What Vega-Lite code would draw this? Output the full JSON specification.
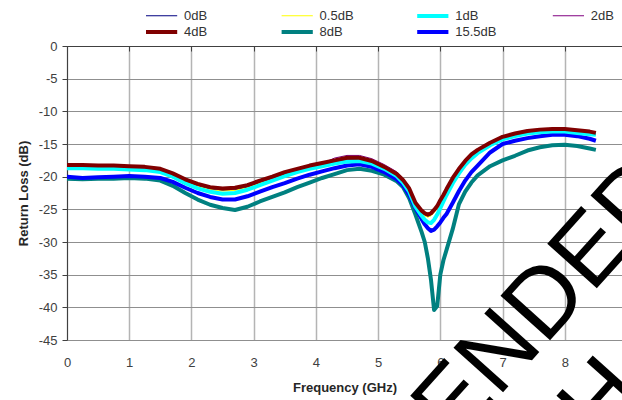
{
"$schema": "https://vega.github.io/schema/vega-lite/v6.json",
"autosize": {"type": "none"},
"padding": {"left": 67, "top": 46, "right": 0, "bottom": 60},
"width": 555,
"height": 294,
"background": "white",
"config": {"view": {"stroke": null}, "font": "Liberation Sans"},
"resolve": {"axis": {"x": "independent", "y": "independent"}},
"datasets": {
"curves": [
{"s":"0dB","f":0,"v":-18.5},{"s":"0dB","f":0.25,"v":-18.5},{"s":"0dB","f":0.5,"v":-18.6},{"s":"0dB","f":0.75,"v":-18.6},{"s":"0dB","f":1,"v":-18.7},{"s":"0dB","f":1.25,"v":-18.8},{"s":"0dB","f":1.5,"v":-19.1},{"s":"0dB","f":1.7,"v":-19.8},{"s":"0dB","f":1.9,"v":-20.7},{"s":"0dB","f":2.1,"v":-21.4},{"s":"0dB","f":2.3,"v":-21.9},{"s":"0dB","f":2.5,"v":-22.1},{"s":"0dB","f":2.7,"v":-22.0},{"s":"0dB","f":2.9,"v":-21.6},{"s":"0dB","f":3.1,"v":-20.9},{"s":"0dB","f":3.3,"v":-20.3},{"s":"0dB","f":3.5,"v":-19.6},{"s":"0dB","f":3.7,"v":-19.1},{"s":"0dB","f":3.9,"v":-18.6},{"s":"0dB","f":4.1,"v":-18.2},{"s":"0dB","f":4.3,"v":-17.8},{"s":"0dB","f":4.5,"v":-17.4},{"s":"0dB","f":4.7,"v":-17.4},{"s":"0dB","f":4.9,"v":-17.9},{"s":"0dB","f":5.1,"v":-18.8},{"s":"0dB","f":5.3,"v":-19.9},{"s":"0dB","f":5.4,"v":-20.8},{"s":"0dB","f":5.5,"v":-22.1},{"s":"0dB","f":5.6,"v":-24.3},{"s":"0dB","f":5.7,"v":-25.5},{"s":"0dB","f":5.75,"v":-25.9},{"s":"0dB","f":5.8,"v":-26.1},{"s":"0dB","f":5.85,"v":-25.9},{"s":"0dB","f":5.9,"v":-25.4},{"s":"0dB","f":5.95,"v":-24.8},{"s":"0dB","f":6,"v":-23.9},{"s":"0dB","f":6.05,"v":-23.1},{"s":"0dB","f":6.1,"v":-22.2},{"s":"0dB","f":6.2,"v":-20.5},{"s":"0dB","f":6.3,"v":-19.1},{"s":"0dB","f":6.4,"v":-17.9},{"s":"0dB","f":6.5,"v":-16.9},{"s":"0dB","f":6.6,"v":-16.2},{"s":"0dB","f":6.8,"v":-15.1},{"s":"0dB","f":7,"v":-14.2},{"s":"0dB","f":7.2,"v":-13.7},{"s":"0dB","f":7.4,"v":-13.3},{"s":"0dB","f":7.6,"v":-13.1},{"s":"0dB","f":7.8,"v":-13.0},{"s":"0dB","f":8,"v":-13.0},{"s":"0dB","f":8.2,"v":-13.2},{"s":"0dB","f":8.4,"v":-13.4},{"s":"0dB","f":8.5,"v":-13.6},
{"s":"0.5dB","f":0,"v":-18.6},{"s":"0.5dB","f":0.25,"v":-18.6},{"s":"0.5dB","f":0.5,"v":-18.7},{"s":"0.5dB","f":0.75,"v":-18.7},{"s":"0.5dB","f":1,"v":-18.8},{"s":"0.5dB","f":1.25,"v":-18.9},{"s":"0.5dB","f":1.5,"v":-19.2},{"s":"0.5dB","f":1.7,"v":-19.9},{"s":"0.5dB","f":1.9,"v":-20.8},{"s":"0.5dB","f":2.1,"v":-21.5},{"s":"0.5dB","f":2.3,"v":-22.0},{"s":"0.5dB","f":2.5,"v":-22.2},{"s":"0.5dB","f":2.7,"v":-22.1},{"s":"0.5dB","f":2.9,"v":-21.7},{"s":"0.5dB","f":3.1,"v":-21.0},{"s":"0.5dB","f":3.3,"v":-20.4},{"s":"0.5dB","f":3.5,"v":-19.7},{"s":"0.5dB","f":3.7,"v":-19.2},{"s":"0.5dB","f":3.9,"v":-18.7},{"s":"0.5dB","f":4.1,"v":-18.3},{"s":"0.5dB","f":4.3,"v":-17.9},{"s":"0.5dB","f":4.5,"v":-17.5},{"s":"0.5dB","f":4.7,"v":-17.5},{"s":"0.5dB","f":4.9,"v":-18.0},{"s":"0.5dB","f":5.1,"v":-18.9},{"s":"0.5dB","f":5.3,"v":-20.0},{"s":"0.5dB","f":5.4,"v":-20.9},{"s":"0.5dB","f":5.5,"v":-22.2},{"s":"0.5dB","f":5.6,"v":-24.4},{"s":"0.5dB","f":5.7,"v":-25.6},{"s":"0.5dB","f":5.75,"v":-26.0},{"s":"0.5dB","f":5.8,"v":-26.2},{"s":"0.5dB","f":5.85,"v":-26.0},{"s":"0.5dB","f":5.9,"v":-25.5},{"s":"0.5dB","f":5.95,"v":-24.9},{"s":"0.5dB","f":6,"v":-24.0},{"s":"0.5dB","f":6.05,"v":-23.2},{"s":"0.5dB","f":6.1,"v":-22.3},{"s":"0.5dB","f":6.2,"v":-20.6},{"s":"0.5dB","f":6.3,"v":-19.2},{"s":"0.5dB","f":6.4,"v":-18.0},{"s":"0.5dB","f":6.5,"v":-17.0},{"s":"0.5dB","f":6.6,"v":-16.3},{"s":"0.5dB","f":6.8,"v":-15.2},{"s":"0.5dB","f":7,"v":-14.3},{"s":"0.5dB","f":7.2,"v":-13.8},{"s":"0.5dB","f":7.4,"v":-13.4},{"s":"0.5dB","f":7.6,"v":-13.2},{"s":"0.5dB","f":7.8,"v":-13.1},{"s":"0.5dB","f":8,"v":-13.1},{"s":"0.5dB","f":8.2,"v":-13.3},{"s":"0.5dB","f":8.4,"v":-13.5},{"s":"0.5dB","f":8.5,"v":-13.7},
{"s":"2dB","f":0,"v":-18.3},{"s":"2dB","f":0.25,"v":-18.3},{"s":"2dB","f":0.5,"v":-18.4},{"s":"2dB","f":0.75,"v":-18.4},{"s":"2dB","f":1,"v":-18.5},{"s":"2dB","f":1.25,"v":-18.6},{"s":"2dB","f":1.5,"v":-18.9},{"s":"2dB","f":1.7,"v":-19.6},{"s":"2dB","f":1.9,"v":-20.5},{"s":"2dB","f":2.1,"v":-21.2},{"s":"2dB","f":2.3,"v":-21.7},{"s":"2dB","f":2.5,"v":-21.9},{"s":"2dB","f":2.7,"v":-21.8},{"s":"2dB","f":2.9,"v":-21.4},{"s":"2dB","f":3.1,"v":-20.7},{"s":"2dB","f":3.3,"v":-20.1},{"s":"2dB","f":3.5,"v":-19.4},{"s":"2dB","f":3.7,"v":-18.9},{"s":"2dB","f":3.9,"v":-18.4},{"s":"2dB","f":4.1,"v":-18.0},{"s":"2dB","f":4.3,"v":-17.15},{"s":"2dB","f":4.5,"v":-16.75},{"s":"2dB","f":4.7,"v":-16.75},{"s":"2dB","f":4.9,"v":-17.25},{"s":"2dB","f":5.1,"v":-18.15},{"s":"2dB","f":5.3,"v":-19.25},{"s":"2dB","f":5.4,"v":-20.4},{"s":"2dB","f":5.5,"v":-21.9},{"s":"2dB","f":5.6,"v":-24.1},{"s":"2dB","f":5.7,"v":-25.3},{"s":"2dB","f":5.75,"v":-25.7},{"s":"2dB","f":5.8,"v":-25.9},{"s":"2dB","f":5.85,"v":-25.7},{"s":"2dB","f":5.9,"v":-25.2},{"s":"2dB","f":5.95,"v":-24.6},{"s":"2dB","f":6,"v":-23.7},{"s":"2dB","f":6.05,"v":-22.9},{"s":"2dB","f":6.1,"v":-22.0},{"s":"2dB","f":6.2,"v":-20.3},{"s":"2dB","f":6.3,"v":-18.9},{"s":"2dB","f":6.4,"v":-17.7},{"s":"2dB","f":6.5,"v":-16.7},{"s":"2dB","f":6.6,"v":-16.0},{"s":"2dB","f":6.8,"v":-14.9},{"s":"2dB","f":7,"v":-14.0},{"s":"2dB","f":7.2,"v":-13.5},{"s":"2dB","f":7.4,"v":-13.1},{"s":"2dB","f":7.6,"v":-12.9},{"s":"2dB","f":7.8,"v":-12.8},{"s":"2dB","f":8,"v":-12.8},{"s":"2dB","f":8.2,"v":-13.0},{"s":"2dB","f":8.4,"v":-13.2},{"s":"2dB","f":8.5,"v":-13.4},
{"s":"8dB","f":0,"v":-20.3},{"s":"8dB","f":0.25,"v":-20.4},{"s":"8dB","f":0.5,"v":-20.3},{"s":"8dB","f":0.75,"v":-20.3},{"s":"8dB","f":1,"v":-20.2},{"s":"8dB","f":1.25,"v":-20.3},{"s":"8dB","f":1.5,"v":-20.6},{"s":"8dB","f":1.7,"v":-21.4},{"s":"8dB","f":1.9,"v":-22.5},{"s":"8dB","f":2.1,"v":-23.5},{"s":"8dB","f":2.3,"v":-24.3},{"s":"8dB","f":2.5,"v":-24.8},{"s":"8dB","f":2.7,"v":-25.1},{"s":"8dB","f":2.9,"v":-24.6},{"s":"8dB","f":3.1,"v":-23.8},{"s":"8dB","f":3.3,"v":-23.1},{"s":"8dB","f":3.5,"v":-22.4},{"s":"8dB","f":3.7,"v":-21.6},{"s":"8dB","f":3.9,"v":-20.9},{"s":"8dB","f":4.1,"v":-20.2},{"s":"8dB","f":4.3,"v":-19.6},{"s":"8dB","f":4.5,"v":-19.0},{"s":"8dB","f":4.7,"v":-18.8},{"s":"8dB","f":4.9,"v":-19.1},{"s":"8dB","f":5.1,"v":-19.7},{"s":"8dB","f":5.3,"v":-20.7},{"s":"8dB","f":5.4,"v":-21.6},{"s":"8dB","f":5.5,"v":-23.3},{"s":"8dB","f":5.6,"v":-25.8},{"s":"8dB","f":5.7,"v":-28.5},{"s":"8dB","f":5.75,"v":-30.0},{"s":"8dB","f":5.8,"v":-32.5},{"s":"8dB","f":5.85,"v":-35.8},{"s":"8dB","f":5.9,"v":-40.4},{"s":"8dB","f":5.95,"v":-39.8},{"s":"8dB","f":6,"v":-35.0},{"s":"8dB","f":6.05,"v":-32.8},{"s":"8dB","f":6.1,"v":-31.2},{"s":"8dB","f":6.2,"v":-28.0},{"s":"8dB","f":6.3,"v":-24.2},{"s":"8dB","f":6.4,"v":-22.3},{"s":"8dB","f":6.5,"v":-20.9},{"s":"8dB","f":6.6,"v":-19.8},{"s":"8dB","f":6.8,"v":-18.4},{"s":"8dB","f":7,"v":-17.5},{"s":"8dB","f":7.2,"v":-16.8},{"s":"8dB","f":7.4,"v":-16.0},{"s":"8dB","f":7.6,"v":-15.5},{"s":"8dB","f":7.8,"v":-15.2},{"s":"8dB","f":8,"v":-15.1},{"s":"8dB","f":8.2,"v":-15.3},{"s":"8dB","f":8.4,"v":-15.7},{"s":"8dB","f":8.5,"v":-15.9},
{"s":"15.5dB","f":0,"v":-20.0},{"s":"15.5dB","f":0.25,"v":-20.2},{"s":"15.5dB","f":0.5,"v":-20.1},{"s":"15.5dB","f":0.75,"v":-20.0},{"s":"15.5dB","f":1,"v":-19.9},{"s":"15.5dB","f":1.25,"v":-20.0},{"s":"15.5dB","f":1.5,"v":-20.2},{"s":"15.5dB","f":1.7,"v":-20.8},{"s":"15.5dB","f":1.9,"v":-21.7},{"s":"15.5dB","f":2.1,"v":-22.5},{"s":"15.5dB","f":2.3,"v":-23.1},{"s":"15.5dB","f":2.5,"v":-23.5},{"s":"15.5dB","f":2.7,"v":-23.5},{"s":"15.5dB","f":2.9,"v":-23.0},{"s":"15.5dB","f":3.1,"v":-22.3},{"s":"15.5dB","f":3.3,"v":-21.6},{"s":"15.5dB","f":3.5,"v":-21.0},{"s":"15.5dB","f":3.7,"v":-20.3},{"s":"15.5dB","f":3.9,"v":-19.7},{"s":"15.5dB","f":4.1,"v":-19.2},{"s":"15.5dB","f":4.3,"v":-18.7},{"s":"15.5dB","f":4.5,"v":-18.3},{"s":"15.5dB","f":4.7,"v":-18.1},{"s":"15.5dB","f":4.9,"v":-18.5},{"s":"15.5dB","f":5.1,"v":-19.3},{"s":"15.5dB","f":5.3,"v":-20.4},{"s":"15.5dB","f":5.4,"v":-21.3},{"s":"15.5dB","f":5.5,"v":-22.8},{"s":"15.5dB","f":5.6,"v":-24.8},{"s":"15.5dB","f":5.7,"v":-26.5},{"s":"15.5dB","f":5.75,"v":-27.3},{"s":"15.5dB","f":5.8,"v":-27.9},{"s":"15.5dB","f":5.85,"v":-28.3},{"s":"15.5dB","f":5.9,"v":-28.1},{"s":"15.5dB","f":5.95,"v":-27.6},{"s":"15.5dB","f":6,"v":-27.0},{"s":"15.5dB","f":6.05,"v":-26.3},{"s":"15.5dB","f":6.1,"v":-25.7},{"s":"15.5dB","f":6.2,"v":-24.0},{"s":"15.5dB","f":6.3,"v":-22.2},{"s":"15.5dB","f":6.4,"v":-20.6},{"s":"15.5dB","f":6.5,"v":-19.3},{"s":"15.5dB","f":6.6,"v":-18.3},{"s":"15.5dB","f":6.8,"v":-16.3},{"s":"15.5dB","f":7,"v":-15.0},{"s":"15.5dB","f":7.2,"v":-14.5},{"s":"15.5dB","f":7.4,"v":-14.1},{"s":"15.5dB","f":7.6,"v":-13.8},{"s":"15.5dB","f":7.8,"v":-13.6},{"s":"15.5dB","f":8,"v":-13.6},{"s":"15.5dB","f":8.2,"v":-13.8},{"s":"15.5dB","f":8.4,"v":-14.2},{"s":"15.5dB","f":8.5,"v":-14.5},
{"s":"1dB","f":0,"v":-18.7},{"s":"1dB","f":0.25,"v":-18.7},{"s":"1dB","f":0.5,"v":-18.8},{"s":"1dB","f":0.75,"v":-18.8},{"s":"1dB","f":1,"v":-18.9},{"s":"1dB","f":1.25,"v":-19.0},{"s":"1dB","f":1.5,"v":-19.3},{"s":"1dB","f":1.7,"v":-20.0},{"s":"1dB","f":1.9,"v":-21.0},{"s":"1dB","f":2.1,"v":-21.8},{"s":"1dB","f":2.3,"v":-22.3},{"s":"1dB","f":2.5,"v":-22.6},{"s":"1dB","f":2.7,"v":-22.5},{"s":"1dB","f":2.9,"v":-22.0},{"s":"1dB","f":3.1,"v":-21.3},{"s":"1dB","f":3.3,"v":-20.6},{"s":"1dB","f":3.5,"v":-19.9},{"s":"1dB","f":3.7,"v":-19.3},{"s":"1dB","f":3.9,"v":-18.8},{"s":"1dB","f":4.1,"v":-18.4},{"s":"1dB","f":4.3,"v":-18.0},{"s":"1dB","f":4.5,"v":-17.7},{"s":"1dB","f":4.7,"v":-17.6},{"s":"1dB","f":4.9,"v":-18.0},{"s":"1dB","f":5.1,"v":-18.8},{"s":"1dB","f":5.3,"v":-19.9},{"s":"1dB","f":5.4,"v":-20.9},{"s":"1dB","f":5.5,"v":-22.3},{"s":"1dB","f":5.6,"v":-24.6},{"s":"1dB","f":5.7,"v":-26.0},{"s":"1dB","f":5.75,"v":-26.6},{"s":"1dB","f":5.8,"v":-27.0},{"s":"1dB","f":5.85,"v":-27.1},{"s":"1dB","f":5.9,"v":-26.6},{"s":"1dB","f":5.95,"v":-25.8},{"s":"1dB","f":6,"v":-24.8},{"s":"1dB","f":6.05,"v":-23.8},{"s":"1dB","f":6.1,"v":-22.8},{"s":"1dB","f":6.2,"v":-21.0},{"s":"1dB","f":6.3,"v":-19.5},{"s":"1dB","f":6.4,"v":-18.2},{"s":"1dB","f":6.5,"v":-17.2},{"s":"1dB","f":6.6,"v":-16.4},{"s":"1dB","f":6.8,"v":-15.2},{"s":"1dB","f":7,"v":-14.3},{"s":"1dB","f":7.2,"v":-13.8},{"s":"1dB","f":7.4,"v":-13.4},{"s":"1dB","f":7.6,"v":-13.2},{"s":"1dB","f":7.8,"v":-13.1},{"s":"1dB","f":8,"v":-13.1},{"s":"1dB","f":8.2,"v":-13.3},{"s":"1dB","f":8.4,"v":-13.5},{"s":"1dB","f":8.5,"v":-13.6},
{"s":"4dB","f":0,"v":-18.2},{"s":"4dB","f":0.25,"v":-18.2},{"s":"4dB","f":0.5,"v":-18.3},{"s":"4dB","f":0.75,"v":-18.3},{"s":"4dB","f":1,"v":-18.4},{"s":"4dB","f":1.25,"v":-18.5},{"s":"4dB","f":1.5,"v":-18.8},{"s":"4dB","f":1.7,"v":-19.5},{"s":"4dB","f":1.9,"v":-20.4},{"s":"4dB","f":2.1,"v":-21.1},{"s":"4dB","f":2.3,"v":-21.6},{"s":"4dB","f":2.5,"v":-21.8},{"s":"4dB","f":2.7,"v":-21.7},{"s":"4dB","f":2.9,"v":-21.3},{"s":"4dB","f":3.1,"v":-20.6},{"s":"4dB","f":3.3,"v":-20.0},{"s":"4dB","f":3.5,"v":-19.3},{"s":"4dB","f":3.7,"v":-18.8},{"s":"4dB","f":3.9,"v":-18.3},{"s":"4dB","f":4.1,"v":-17.9},{"s":"4dB","f":4.3,"v":-17.5},{"s":"4dB","f":4.5,"v":-17.1},{"s":"4dB","f":4.7,"v":-17.1},{"s":"4dB","f":4.9,"v":-17.6},{"s":"4dB","f":5.1,"v":-18.5},{"s":"4dB","f":5.3,"v":-19.6},{"s":"4dB","f":5.4,"v":-20.5},{"s":"4dB","f":5.5,"v":-21.8},{"s":"4dB","f":5.6,"v":-24.0},{"s":"4dB","f":5.7,"v":-25.2},{"s":"4dB","f":5.75,"v":-25.6},{"s":"4dB","f":5.8,"v":-25.8},{"s":"4dB","f":5.85,"v":-25.6},{"s":"4dB","f":5.9,"v":-25.1},{"s":"4dB","f":5.95,"v":-24.5},{"s":"4dB","f":6,"v":-23.6},{"s":"4dB","f":6.05,"v":-22.8},{"s":"4dB","f":6.1,"v":-21.9},{"s":"4dB","f":6.2,"v":-20.2},{"s":"4dB","f":6.3,"v":-18.8},{"s":"4dB","f":6.4,"v":-17.6},{"s":"4dB","f":6.5,"v":-16.6},{"s":"4dB","f":6.6,"v":-15.9},{"s":"4dB","f":6.8,"v":-14.8},{"s":"4dB","f":7,"v":-13.9},{"s":"4dB","f":7.2,"v":-13.4},{"s":"4dB","f":7.4,"v":-13.0},{"s":"4dB","f":7.6,"v":-12.8},{"s":"4dB","f":7.8,"v":-12.7},{"s":"4dB","f":8,"v":-12.7},{"s":"4dB","f":8.2,"v":-12.9},{"s":"4dB","f":8.4,"v":-13.1},{"s":"4dB","f":8.5,"v":-13.3}
],
"watermark": [
{"x": 9.88, "y": -22.65, "t": "NOT RECOMMENDED"},
{"x": 9.33, "y": -53.3, "t": "H"}
]
},
"layer": [
{
"data": {"name": "curves"},
"mark": {"type": "line", "clip": true, "strokeJoin": "round"},
"encoding": {
"x": {"field": "f", "type": "quantitative",
"scale": {"domain": [0, 8.92], "nice": false, "zero": false},
"axis": {"orient": "bottom", "values": [0,1,2,3,4,5,6,7,8], "grid": true, "gridColor": "#b4b4b4", "gridWidth": 1.5,
"domain": false, "ticks": false, "tickSize": 0, "labelPadding": 16, "labelFlush": false,
"labelFontSize": 13, "labelColor": "#404040", "labelFont": "Liberation Sans",
"title": "Frequency (GHz)", "titleFont": "Liberation Sans", "titleFontSize": 13, "titleFontWeight": "bold", "titleColor": "#262626", "titlePadding": 12}},
"y": {"field": "v", "type": "quantitative",
"scale": {"domain": [-45, 0], "nice": false, "zero": false},
"axis": {"values": [-45,-40,-35,-30,-25,-20,-15,-10,-5,0], "labelExpr": "'' + datum.value", "grid": true,
"gridColor": {"condition": {"test": "datum.value === 0", "value": "#404040"}, "value": "#8f8f8f"}, "gridWidth": 1,
"domain": true, "domainColor": "#404040", "ticks": true, "tickSize": 5, "tickColor": "#404040", "labelPadding": 5,
"labelFontSize": 13, "labelColor": "#404040", "labelFont": "Liberation Sans",
"title": "Return Loss (dB)", "titleFont": "Liberation Sans", "titleFontSize": 13, "titleFontWeight": "bold", "titleColor": "#262626", "titlePadding": 8}},
"color": {"field": "s", "type": "nominal",
"scale": {"domain": ["0dB","0.5dB","1dB","2dB","4dB","8dB","15.5dB"], "range": ["#000080","#FFFF00","#00FFFF","#800080","#800000","#008080","#0000FF"]},
"legend": {"orient": "none", "direction": "horizontal", "legendX": 86.6, "legendY": -38, "columns": 4, "title": null, "symbolType": "M-2.6,0H2.6", "symbolSize": 144,
"labelFontSize": 13, "labelFont": "Liberation Sans", "labelColor": "#333333", "labelOffset": 14.4, "columnPadding": 47.6, "rowPadding": 0, "gridAlign": "all", "padding": 0}},
"strokeWidth": {"field": "s", "type": "nominal",
"scale": {"type": "ordinal", "domain": ["0dB","0.5dB","1dB","2dB","4dB","8dB","15.5dB"], "range": [1,1,4,1,4,4,4]},
"legend": {"orient": "none", "direction": "horizontal", "legendX": 86.6, "legendY": -38, "columns": 4, "title": null, "symbolType": "M-2.6,0H2.6", "symbolSize": 144,
"labelFontSize": 13, "labelFont": "Liberation Sans", "labelColor": "#333333", "labelOffset": 14.4, "columnPadding": 47.6, "rowPadding": 0, "gridAlign": "all", "padding": 0}}
}
},
{
"data": {"name": "watermark"},
"mark": {"type": "text", "angle": 312, "align": "right", "baseline": "alphabetic", "fontSize": 97, "font": "Liberation Sans", "color": "#000000"},
"encoding": {
"x": {"field": "x", "type": "quantitative",
"axis": {"orient": "top", "values": [0,1,2,3,4,5,6,7,8], "labels": false, "grid": false, "ticks": true, "tickSize": -5, "tickColor": "#404040", "domain": true, "domainColor": "#404040", "title": null}},
"y": {"field": "y", "type": "quantitative", "axis": null},
"text": {"field": "t"}
}
}
]
}
